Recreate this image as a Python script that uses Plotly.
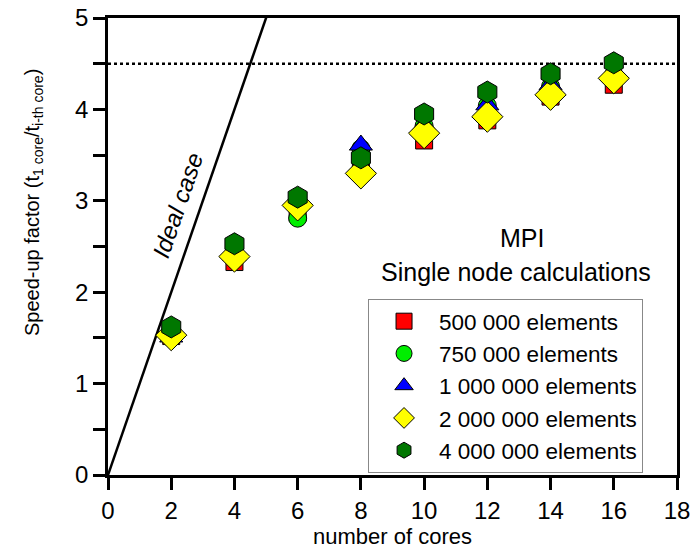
import plotly.graph_objects as go

cores = [2, 4, 6, 8, 10, 12, 14, 16]
s500k = [1.52, 2.33, 2.87, 3.33, 3.66, 3.88, 4.14, 4.27]
s750k = [1.50, 2.38, 2.81, 3.57, 3.82, 4.04, 4.25, 4.38]
s1m = [1.51, 2.40, 2.97, 3.61, 3.83, 4.05, 4.27, 4.40]
s2m = [1.53, 2.39, 2.95, 3.30, 3.74, 3.92, 4.16, 4.34]
s4m = [1.62, 2.53, 3.04, 3.47, 3.95, 4.19, 4.39, 4.51]

names = ["500 000 elements", "750 000 elements", "1 000 000 elements",
         "2 000 000 elements", "4 000 000 elements"]
series = [s500k, s750k, s1m, s2m, s4m]
symbols = ["square", "circle", "triangle-up", "diamond", "hexagon"]
colors = ["#ff0000", "#00ee00", "#0000ff", "#ffff00", "#007700"]
sizes = [17, 18, 20, 24, 22]

ideal_x = [0, 18]
ideal_y = [0, 18]
limit_x = [0, 18]
limit_y = [4.5, 4.5]

fig = go.Figure()
fig.add_trace(go.Scatter(x=ideal_x, y=ideal_y, mode="lines",
                         line=dict(color="black", width=2.5), showlegend=False))
fig.add_trace(go.Scatter(x=limit_x, y=limit_y, mode="lines",
                         line=dict(color="black", width=2.5, dash="dot"), showlegend=False))
for n, s, sym, c, sz in zip(names, series, symbols, colors, sizes):
    fig.add_trace(go.Scatter(x=cores, y=s, mode="markers", name=n,
                             marker=dict(symbol=sym, color=c, size=sz,
                                         line=dict(color="black", width=1))))

font = "Liberation Sans, Arial, sans-serif"
fig.update_layout(
    width=691, height=549,
    margin=dict(l=108, r=14, t=18, b=74, autoexpand=False),
    plot_bgcolor="white", paper_bgcolor="white",
    font=dict(family=font, color="black", size=22),
    legend=dict(x=0.457, y=0.385, xanchor="left", yanchor="top",
                bordercolor="#888888", borderwidth=1, bgcolor="white",
                font=dict(size=22.5, family=font), tracegroupgap=0,
                itemsizing="trace", itemwidth=60),
    xaxis=dict(range=[0, 18], tickvals=[0, 2, 4, 6, 8, 10, 12, 14, 16, 18],
               showgrid=False, zeroline=False, showline=True, linecolor="black",
               linewidth=2.5, mirror=True, ticks="outside", ticklen=12, tickwidth=2.5,
               tickcolor="black", tickfont=dict(size=24), automargin=False,
               title=dict(text="number of cores", font=dict(size=22), standoff=4)),
    yaxis=dict(range=[0, 5], tickvals=[0, 1, 2, 3, 4, 5],
               showgrid=False, zeroline=False, showline=True, linecolor="black",
               linewidth=2.5, mirror=True, ticks="outside", ticklen=12, tickwidth=2.5,
               tickcolor="black", tickfont=dict(size=24), automargin=False,
               minor=dict(tickvals=[0.5, 1.5, 2.5, 3.5, 4.5], ticks="outside",
                          ticklen=12, tickwidth=2.5, tickcolor="black")),
    annotations=[
        dict(x=-0.132, y=0.597, xref="paper", yref="paper",
             text="Speed-up factor (t<sub>1 core</sub>/t<sub>i-th core</sub>)",
             showarrow=False, textangle=-90, font=dict(size=20),
             xanchor="center", yanchor="middle"),
        dict(x=0.728, y=0.519, xref="paper", yref="paper", text="MPI", showarrow=False,
             font=dict(size=25), xanchor="center", yanchor="middle"),
        dict(x=0.717, y=0.444, xref="paper", yref="paper", text="Single node calculations",
             showarrow=False, font=dict(size=25), xanchor="center", yanchor="middle"),
        dict(x=2.2, y=2.95, xref="x", yref="y", text="<i>Ideal case</i>", showarrow=False,
             textangle=-71, font=dict(size=24), xanchor="center", yanchor="middle"),
    ],
)
fig.write_html("out.html")
